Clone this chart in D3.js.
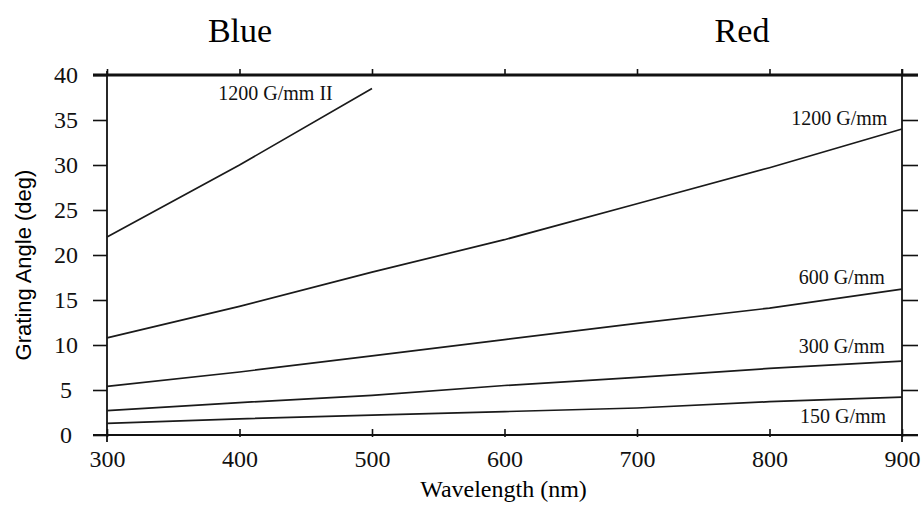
<!DOCTYPE html>
<html>
<head>
<meta charset="utf-8">
<script src="https://cdn.jsdelivr.net/npm/d3@7"></script>
<style>
  body { margin: 0; background: #fff; }
  svg { display: block; }
</style>
</head>
<body>
<div id="chart"></div>
<script>
// wavelength grid (nm)
var waveAll = [300, 400, 500, 600, 700, 800, 900];
var waveBlue = [300, 400, 500];

// grating angle (deg)
var g1200ii = [22.0, 30.0, 38.5];
var g1200 = [10.8, 14.3, 18.1, 21.7, 25.7, 29.7, 34.0];
var g600 = [5.4, 7.0, 8.8, 10.6, 12.4, 14.1, 16.2];
var g300 = [2.7, 3.6, 4.4, 5.5, 6.4, 7.4, 8.2];
var g150 = [1.3, 1.8, 2.2, 2.6, 3.0, 3.7, 4.2];

var xTicks = [300, 400, 500, 600, 700, 800, 900];
var yTicks = [0, 5, 10, 15, 20, 25, 30, 35, 40];

var series = [
  {name: '1200 G/mm II', x: waveBlue, y: g1200ii},
  {name: '1200 G/mm', x: waveAll, y: g1200},
  {name: '600 G/mm', x: waveAll, y: g600},
  {name: '300 G/mm', x: waveAll, y: g300},
  {name: '150 G/mm', x: waveAll, y: g150}
];

var serif = '"Liberation Serif", "Times New Roman", serif';
var width = 923, height = 508;
var margin = {top: 75, right: 21, bottom: 73, left: 107};

var svg = d3.select('#chart').append('svg')
    .attr('width', width)
    .attr('height', height);

var x = d3.scaleLinear()
    .domain([300, 900])
    .range([margin.left, width - margin.right]);

var y = d3.scaleLinear()
    .domain([0, 40])
    .range([height - margin.bottom, margin.top]);

function styleAxis(g) {
    g.select('.domain').remove();
    g.attr('font-family', null).attr('font-size', null);
    g.selectAll('.tick line').attr('stroke', '#111').attr('stroke-width', 1.6);
    g.selectAll('.tick text')
        .style('font-family', serif)
        .style('font-size', '24px')
        .attr('fill', '#111');
}

// axes
svg.append('g')
    .attr('transform', 'translate(' + x(300) + ',0)')
    .call(d3.axisLeft(y).tickValues(yTicks).tickSize(14).tickPadding(27))
    .call(styleAxis)
    .selectAll('text').attr('text-anchor', 'middle');

svg.append('g')
    .attr('transform', 'translate(' + x(900) + ',0)')
    .call(d3.axisRight(y).tickValues(yTicks).tickSize(16).tickFormat(''))
    .call(styleAxis);

var bottom = svg.append('g')
    .attr('transform', 'translate(0,' + y(0) + ')')
    .call(d3.axisBottom(x).tickValues(xTicks).tickSize(6).tickPadding(9))
    .call(styleAxis);
bottom.selectAll('.tick line').attr('y1', -6).attr('y2', 2);

svg.append('g')
    .attr('transform', 'translate(0,' + y(40) + ')')
    .call(d3.axisTop(x).tickValues(xTicks).tickSize(6).tickFormat(''))
    .call(styleAxis);

// frame
var frame = svg.append('g').attr('stroke', '#111').attr('fill', 'none');
frame.append('line')
    .attr('x1', x(300) - 14).attr('x2', x(900) + 16)
    .attr('y1', y(40)).attr('y2', y(40))
    .attr('stroke-width', 3);
frame.append('line')
    .attr('x1', x(300) - 14).attr('x2', x(900) + 16)
    .attr('y1', y(0)).attr('y2', y(0))
    .attr('stroke-width', 2.2);
frame.append('line')
    .attr('x1', x(300)).attr('x2', x(300))
    .attr('y1', y(40) - 4).attr('y2', y(0) + 7)
    .attr('stroke-width', 1.8);
frame.append('line')
    .attr('x1', x(900)).attr('x2', x(900))
    .attr('y1', y(40) - 6).attr('y2', y(0) + 7)
    .attr('stroke-width', 1.8);

// curves
var line = d3.line()
    .x(function (d) { return x(d[0]); })
    .y(function (d) { return y(d[1]); });

svg.selectAll('path.curve')
    .data(series)
    .enter().append('path')
    .attr('class', 'curve')
    .attr('fill', 'none')
    .attr('stroke', '#1a1a1a')
    .attr('stroke-width', 1.7)
    .attr('d', function (s) {
        return line(s.x.map(function (w, i) { return [w, s.y[i]]; }));
    });

// curve labels
function label(txt, wl, ang, anchor) {
    svg.append('text')
        .attr('x', x(wl)).attr('y', y(ang))
        .attr('text-anchor', anchor)
        .style('font-family', serif)
        .style('font-size', '20px')
        .attr('fill', '#111')
        .text(txt);
}
label('1200 G/mm II', 384, 37.2, 'start');
label('1200 G/mm', 889, 34.4, 'end');
label('600 G/mm', 887, 16.8, 'end');
label('300 G/mm', 887, 9.1, 'end');
label('150 G/mm', 888, 1.3, 'end');

// titles
svg.append('text')
    .attr('x', 240).attr('y', 42)
    .attr('text-anchor', 'middle')
    .style('font-family', serif)
    .style('font-size', '34px')
    .text('Blue');
svg.append('text')
    .attr('x', 742).attr('y', 42)
    .attr('text-anchor', 'middle')
    .style('font-family', serif)
    .style('font-size', '34px')
    .text('Red');

svg.append('text')
    .attr('x', (x(300) + x(900)) / 2 - 1).attr('y', 497)
    .attr('text-anchor', 'middle')
    .style('font-family', serif)
    .style('font-size', '24px')
    .text('Wavelength (nm)');

svg.append('text')
    .attr('transform', 'translate(31,' + (y(20) + 10) + ')rotate(-90)')
    .attr('text-anchor', 'middle')
    .style('font-family', '"Liberation Sans", Arial, sans-serif')
    .style('font-size', '22px')
    .text('Grating Angle (deg)');
</script>
</body>
</html>
